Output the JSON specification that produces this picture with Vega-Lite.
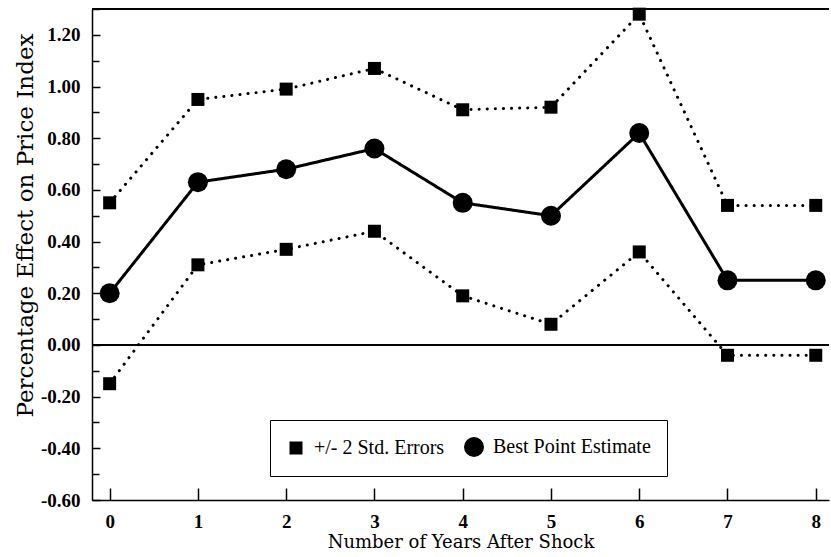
{
  "$schema": "https://vega.github.io/schema/vega-lite/v6.json",
  "width": 737,
  "height": 491,
  "autosize": {"type": "none"},
  "padding": {"left": 92, "top": 9, "right": 2, "bottom": 57},
  "background": "white",
  "config": {
    "view": {"stroke": null},
    "font": "Liberation Serif",
    "axis": {
      "domainColor": "black",
      "domainWidth": 1.5,
      "tickColor": "black",
      "tickWidth": 1.5,
      "labelColor": "black",
      "labelFont": "Liberation Serif",
      "labelFontSize": 19,
      "labelFontWeight": "bold",
      "titleFont": "DejaVu Serif",
      "titleFontSize": 18,
      "titleFontWeight": "normal",
      "titleColor": "black",
      "grid": false
    }
  },
  "data": {
    "values": [
      {"x": 0, "value": 0.55, "line": "upper", "series": "+/- 2 Std. Errors"},
      {"x": 1, "value": 0.95, "line": "upper", "series": "+/- 2 Std. Errors"},
      {"x": 2, "value": 0.99, "line": "upper", "series": "+/- 2 Std. Errors"},
      {"x": 3, "value": 1.07, "line": "upper", "series": "+/- 2 Std. Errors"},
      {"x": 4, "value": 0.91, "line": "upper", "series": "+/- 2 Std. Errors"},
      {"x": 5, "value": 0.92, "line": "upper", "series": "+/- 2 Std. Errors"},
      {"x": 6, "value": 1.28, "line": "upper", "series": "+/- 2 Std. Errors"},
      {"x": 7, "value": 0.54, "line": "upper", "series": "+/- 2 Std. Errors"},
      {"x": 8, "value": 0.54, "line": "upper", "series": "+/- 2 Std. Errors"},
      {"x": 0, "value": 0.20, "line": "mid", "series": "Best Point Estimate"},
      {"x": 1, "value": 0.63, "line": "mid", "series": "Best Point Estimate"},
      {"x": 2, "value": 0.68, "line": "mid", "series": "Best Point Estimate"},
      {"x": 3, "value": 0.76, "line": "mid", "series": "Best Point Estimate"},
      {"x": 4, "value": 0.55, "line": "mid", "series": "Best Point Estimate"},
      {"x": 5, "value": 0.50, "line": "mid", "series": "Best Point Estimate"},
      {"x": 6, "value": 0.82, "line": "mid", "series": "Best Point Estimate"},
      {"x": 7, "value": 0.25, "line": "mid", "series": "Best Point Estimate"},
      {"x": 8, "value": 0.25, "line": "mid", "series": "Best Point Estimate"},
      {"x": 0, "value": -0.15, "line": "lower", "series": "+/- 2 Std. Errors"},
      {"x": 1, "value": 0.31, "line": "lower", "series": "+/- 2 Std. Errors"},
      {"x": 2, "value": 0.37, "line": "lower", "series": "+/- 2 Std. Errors"},
      {"x": 3, "value": 0.44, "line": "lower", "series": "+/- 2 Std. Errors"},
      {"x": 4, "value": 0.19, "line": "lower", "series": "+/- 2 Std. Errors"},
      {"x": 5, "value": 0.08, "line": "lower", "series": "+/- 2 Std. Errors"},
      {"x": 6, "value": 0.36, "line": "lower", "series": "+/- 2 Std. Errors"},
      {"x": 7, "value": -0.04, "line": "lower", "series": "+/- 2 Std. Errors"},
      {"x": 8, "value": -0.04, "line": "lower", "series": "+/- 2 Std. Errors"}
    ]
  },
  "resolve": {"axis": {"y": "independent"}},
  "layer": [
    {
      "mark": {"type": "rule", "color": "black", "strokeWidth": 1.5},
      "encoding": {
        "y": {"datum": 0, "type": "quantitative",
          "scale": {"domain": [-0.6, 1.3], "nice": false, "zero": false},
          "axis": {"orient": "left", "values": [-0.5, -0.3, -0.1, 0.1, 0.3, 0.5, 0.7, 0.9, 1.1, 1.3], "labels": false, "tickSize": -7, "title": null, "domain": false}}
      }
    },
    {
      "mark": {"type": "rule", "color": "black", "strokeWidth": 1.5},
      "encoding": {
        "y": {"datum": 1.3, "type": "quantitative", "axis": null}
      }
    },
    {
      "mark": {"type": "line", "color": "black", "strokeWidth": 3, "strokeCap": "round"},
      "encoding": {
        "x": {"field": "x", "type": "quantitative",
          "scale": {"domain": [-0.2, 8.15], "nice": false, "zero": false},
          "axis": {"values": [0, 1, 2, 3, 4, 5, 6, 7, 8], "format": "d", "tickSize": -12, "labelPadding": 24, "title": "Number of Years After Shock", "titlePadding": 2}},
        "y": {"field": "value", "type": "quantitative",
          "axis": {"orient": "left", "values": [-0.6, -0.4, -0.2, 0, 0.2, 0.4, 0.6, 0.8, 1.0, 1.2], "tickSize": -8, "labelPadding": 20,
            "labelExpr": "replace(format(datum.value, '.2f'), '\u2212', '-')",
            "title": "Percentage Effect on Price Index", "titleFontSize": 23, "titlePadding": 3, "titleY": 216}},
        "detail": {"field": "line"},
        "strokeDash": {"field": "line", "type": "nominal",
          "scale": {"domain": ["upper", "lower", "mid"], "range": [[0.1, 8], [0.1, 8], [1, 0]]},
          "legend": null}
      }
    },
    {
      "mark": {"type": "point", "filled": true, "color": "black", "opacity": 1},
      "encoding": {
        "x": {"field": "x", "type": "quantitative"},
        "y": {"field": "value", "type": "quantitative", "axis": null},
        "shape": {"field": "series", "type": "nominal",
          "scale": {"domain": ["+/- 2 Std. Errors", "Best Point Estimate"], "range": ["square", "circle"]},
          "legend": {"orient": "none", "legendX": 178, "legendY": 411, "direction": "horizontal", "title": null,
            "fillColor": "white", "strokeColor": "black", "padding": 16,
            "labelFont": "Liberation Serif", "labelFontSize": 20, "labelColor": "black",
            "labelOffset": 8,
            "symbolFillColor": "black", "symbolStrokeColor": "black", "columnPadding": 16}},
        "size": {"field": "series", "type": "nominal",
          "scale": {"domain": ["+/- 2 Std. Errors", "Best Point Estimate"], "range": [169, 400]},
          "legend": {"orient": "none", "legendX": 178, "legendY": 411, "direction": "horizontal", "title": null,
            "fillColor": "white", "strokeColor": "black", "padding": 16,
            "labelFont": "Liberation Serif", "labelFontSize": 20, "labelColor": "black",
            "labelOffset": 8,
            "symbolFillColor": "black", "symbolStrokeColor": "black", "columnPadding": 16}}
      }
    }
  ]
}
